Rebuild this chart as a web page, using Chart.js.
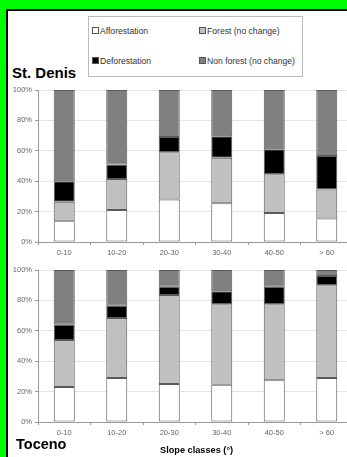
<!DOCTYPE html>
<html>
<head>
<meta charset="utf-8">
<script src="https://cdn.jsdelivr.net/npm/chart.js@4/dist/chart.umd.min.js"></script>
<style>
  html, body { margin: 0; padding: 0; }
  body { width: 347px; height: 457px; overflow: hidden; font-family: 'Liberation Sans', Arial, sans-serif; }
  #frame { position: absolute; left: 0; top: 0; width: 347px; height: 457px; background: #00ff00; overflow: hidden; }
  #sheet { position: absolute; left: 6px; top: 9px; width: 360px; height: 470px; background: #fff;
           border-left: 2px solid #000; border-top: 2px solid #000; }
  canvas { position: absolute; left: 0; }
  #legend { position: absolute; left: 88px; top: 16px; width: 213px; height: 59px; border: 1px solid #bbb; background: #fff; }
  .item { position: absolute; font-size: 8.6px; color: #333; white-space: nowrap; line-height: 10px; }
  .sw { display: inline-block; width: 5px; height: 5px; border: 1px solid #555; margin-right: 1px; }
  .title { position: absolute; font-weight: bold; color: #000; white-space: nowrap; }
</style>
</head>
<body>
<div id="frame">
  <div id="sheet"></div>
  <div id="legend">
    <div class="item" style="left:3px;top:9px"><span class="sw" style="background:#fff"></span>Afforestation</div>
    <div class="item" style="left:110px;top:9px"><span class="sw" style="background:#c0c0c0"></span>Forest (no change)</div>
    <div class="item" style="left:3px;top:39px"><span class="sw" style="background:#000"></span>Deforestation</div>
    <div class="item" style="left:110px;top:39px"><span class="sw" style="background:#808080"></span>Non forest (no change)</div>
  </div>
  <div class="title" style="left:12px;top:64px;font-size:15px">St. Denis</div>
  <canvas id="stDenis" width="353" height="180" style="top:82px"></canvas>
  <canvas id="toceno" width="353" height="180" style="top:262px"></canvas>
  <div class="title" style="left:16px;top:436px;font-size:14.5px">Toceno</div>
  <div class="title" style="left:160px;top:445px;font-size:9.2px">Slope classes (°)</div>
</div>
<script>
// Slope classes on the x axis
const slopeClasses = ['0-10', '10-20', '20-30', '30-40', '40-50', '> 60'];

// Land cover change shares (%) per slope class — St. Denis
const stDenisAfforestation = [14, 21, 28, 25.5, 19, 15.5];
const stDenisForest        = [12.5, 20.5, 31, 30, 25.5, 19];
const stDenisDeforestation = [13.5, 9.5, 10, 14, 16.5, 22];
const stDenisNonForest     = [60, 49, 31, 30.5, 39, 43.5];

// Land cover change shares (%) per slope class — Toceno
const tocenoAfforestation = [23, 29, 25, 24.5, 27.5, 29];
const tocenoForest        = [31, 39.5, 58.5, 53, 50, 61];
const tocenoDeforestation = [10, 8, 5.5, 8.5, 11.5, 6];
const tocenoNonForest     = [36, 23.5, 11, 14, 11, 4];

// Percentage ticks on the y axis
const yTicks = [0, 20, 40, 60, 80, 100];

const seriesNames = ['Afforestation', 'Forest (no change)', 'Deforestation', 'Non forest (no change)'];
const seriesFill = ['#ffffff', '#c0c0c0', '#000000', '#808080'];

function makeDatasets(values) {
  return values.map((data, i) => ({
    label: seriesNames[i],
    data: data,
    backgroundColor: seriesFill[i],
    borderColor: '#5a5a5a',
    borderWidth: 1,
    borderSkipped: false,
    barPercentage: 0.4,
    categoryPercentage: 1.0
  }));
}

const tickFont = { family: "'Liberation Sans', Arial, sans-serif", size: 7.5 };

function makeChart(id, values) {
  return new Chart(document.getElementById(id), {
    type: 'bar',
    data: { labels: slopeClasses, datasets: makeDatasets(values) },
    options: {
      responsive: false,
      animation: false,
      devicePixelRatio: 1,
      layout: { padding: { top: 8, right: 0, bottom: 0, left: 0 } },
      plugins: { legend: { display: false }, tooltip: { enabled: false } },
      scales: {
        x: {
          stacked: true,
          afterFit: s => { s.height = 20; },
          grid: { display: true, drawOnChartArea: false, offset: true, tickLength: 3, tickColor: '#999' },
          border: { display: true, color: '#999' },
          ticks: { font: tickFont, color: '#666', padding: 3, maxRotation: 0 }
        },
        y: {
          stacked: true,
          min: 0,
          max: 100,
          afterFit: s => { s.width = 38; },
          afterBuildTicks: s => { s.ticks = yTicks.map(v => ({ value: v })); },
          grid: { color: '#e4e4e4', tickColor: '#999', tickLength: 3 },
          border: { display: true, color: '#999' },
          ticks: { font: tickFont, color: '#666', padding: 3, callback: v => v + '%' }
        }
      }
    }
  });
}

makeChart('stDenis', [stDenisAfforestation, stDenisForest, stDenisDeforestation, stDenisNonForest]);
makeChart('toceno', [tocenoAfforestation, tocenoForest, tocenoDeforestation, tocenoNonForest]);
</script>
</body>
</html>
